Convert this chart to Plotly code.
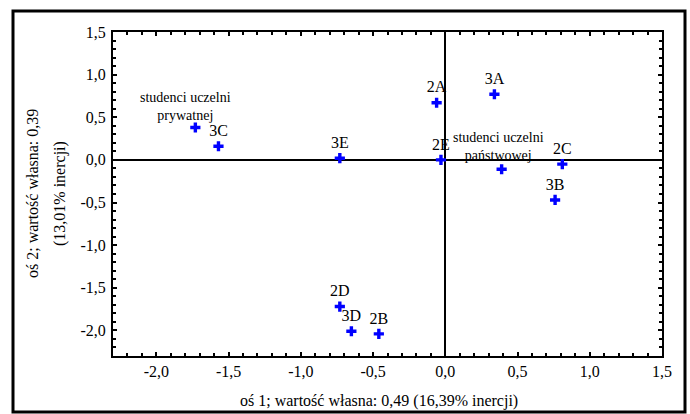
import plotly.graph_objects as go

# Data
codes = ["3C", "3E", "2A", "3A", "2E", "2C", "3B", "2D", "3D", "2B"]
code_x = [-1.57, -0.73, -0.06, 0.34, -0.03, 0.81, 0.76, -0.73, -0.65, -0.46]
code_y = [0.16, 0.02, 0.67, 0.77, 0.00, -0.05, -0.47, -1.72, -2.01, -2.04]

groups = ["studenci uczelni<br>prywatnej", "studenci uczelni<br>państwowej"]
group_x = [-1.73, 0.39]
group_y = [0.38, -0.11]

tick_vals = [-2.0, -1.5, -1.0, -0.5, 0.0, 0.5, 1.0, 1.5]
tick_text = ["-2,0", "-1,5", "-1,0", "-0,5", "0,0", "0,5", "1,0", "1,5"]

x_title = "oś 1; wartość własna: 0,49 (16,39% inercji)"
y_title_1 = "oś 2; wartość własna: 0,39"
y_title_2 = "(13,01% inercji)"

FONT = "Liberation Serif"
W, H = 690, 414
ML, MR, MT, MB = 113, 28, 32, 58
pw, ph = W - ML - MR, H - MT - MB

fig = go.Figure()
fig.add_trace(go.Scatter(
    x=code_x, y=code_y, mode="markers+text", text=codes,
    textposition="top center",
    textfont=dict(family=FONT, size=16, color="black"),
    marker=dict(symbol="cross", size=8.5, color="#0000ff", line=dict(width=0)),
    cliponaxis=False, showlegend=False, hoverinfo="skip"))
fig.add_trace(go.Scatter(
    x=group_x, y=group_y, mode="markers",
    marker=dict(symbol="cross", size=8.5, color="#0000ff", line=dict(width=0)),
    showlegend=False, hoverinfo="skip"))

shifts = [(-10, 21), (-3, 23)]
for gx, gy, g, (dx, dy) in zip(group_x, group_y, groups, shifts):
    fig.add_annotation(x=gx, y=gy, text=g, showarrow=False, xshift=dx, yshift=dy,
                       yanchor="middle", font=dict(family=FONT, size=14, color="black"))

def px2x(p):
    return (p - ML) / pw

def py2y(p):
    return (H - MB - p) / ph

# axis titles
fig.add_annotation(x=px2x(379), y=py2y(401), xref="paper", yref="paper", text=x_title,
                   xanchor="center", yanchor="middle", showarrow=False,
                   font=dict(family=FONT, size=16, color="black"))
fig.add_annotation(x=px2x(32), y=0.5, xref="paper", yref="paper", text=y_title_1,
                   xanchor="center", yanchor="middle",
                   textangle=-90, showarrow=False, font=dict(family=FONT, size=16, color="black"))
fig.add_annotation(x=px2x(60), y=0.5, xref="paper", yref="paper", text=y_title_2,
                   xanchor="center", yanchor="middle",
                   textangle=-90, showarrow=False, font=dict(family=FONT, size=16, color="black"))

# outer frame
fig.add_shape(type="rect", xref="paper", yref="paper",
              x0=px2x(13), x1=px2x(685), y0=py2y(412), y1=py2y(11),
              line=dict(color="black", width=3), layer="above")

axis_common = dict(
    range=[-2.3, 1.5], tickmode="array", tickvals=tick_vals, ticktext=tick_text,
    ticks="inside", ticklen=4, tickwidth=1.5, tickcolor="black",
    showline=True, linecolor="black", linewidth=2, mirror="allticks",
    showgrid=False, zeroline=True, zerolinecolor="black", zerolinewidth=1.5,
    tickfont=dict(family=FONT, size=16, color="black"),
    minor=dict(dtick=0.1, tick0=0, ticks="inside", ticklen=3, tickwidth=1.5, tickcolor="black", showgrid=False),
)
fig.update_xaxes(**axis_common)
fig.update_yaxes(**axis_common, ticklabelstandoff=2)

fig.update_layout(
    width=W, height=H, margin=dict(l=ML, r=MR, t=MT, b=MB, autoexpand=False),
    paper_bgcolor="white", plot_bgcolor="white",
    font=dict(family=FONT, size=16, color="black"),
)
fig.write_html("out.html", config={"displayModeBar": False},
               post_script="document.body.style.margin='0';")
